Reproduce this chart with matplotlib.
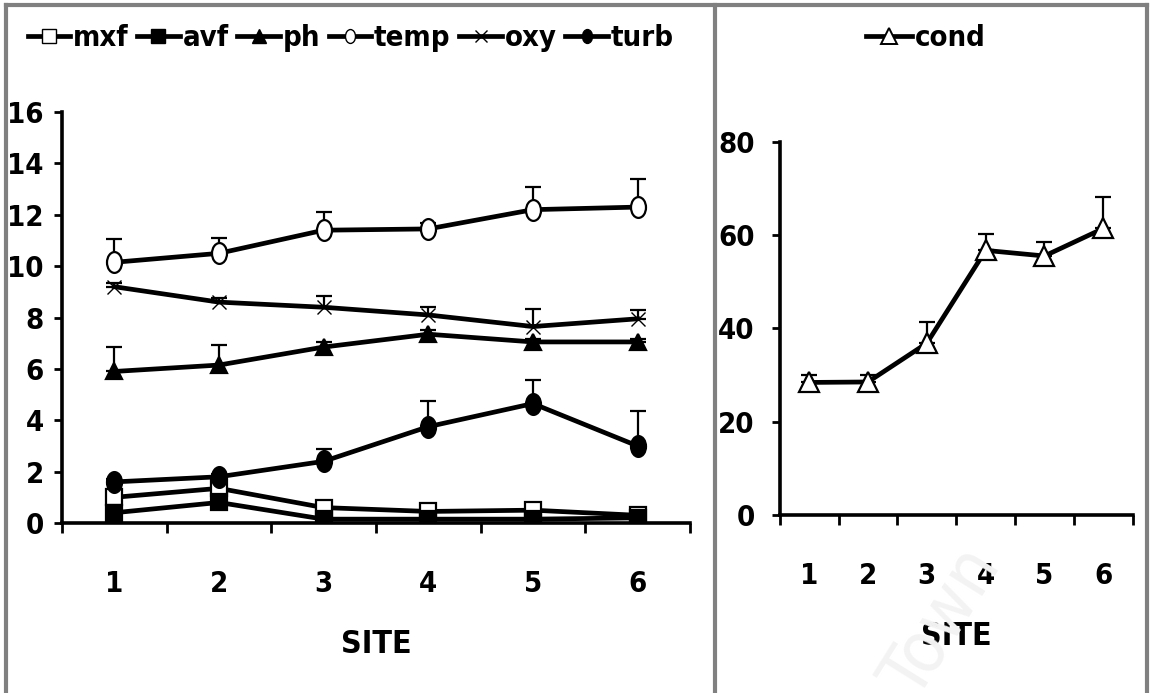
import matplotlib
matplotlib.use("Agg")
import matplotlib.pyplot as plt
import numpy as np
from matplotlib.path import Path
from matplotlib.lines import Line2D
from matplotlib import font_manager

# pick a narrow font if one is installed (reference uses a condensed bold face)
narrow = None
for f in font_manager.fontManager.ttflist:
    if ('Narrow' in f.name or 'Condensed' in f.name or 'condensed' in str(f.stretch)):
        narrow = f
        break
if narrow is not None:
    plt.rcParams['font.family'] = [narrow.name, 'DejaVu Sans']
    plt.rcParams['font.stretch'] = narrow.stretch
    fs_tick, fs_leg, fs_lab = 21, 21, 23
else:
    plt.rcParams['font.family'] = ['Liberation Sans', 'DejaVu Sans']
    fs_tick, fs_leg, fs_lab = 18, 18, 20
plt.rcParams['font.weight'] = 'bold'

# data
sites = [1, 2, 3, 4, 5, 6]
site_labels = ['1', '2', '3', '4', '5', '6']

mxf = [1.0, 1.35, 0.6, 0.45, 0.5, 0.3]
mxf_err = [0.0, 0.0, 0.1, 0.05, 0.1, 0.05]
avf = [0.4, 0.8, 0.15, 0.15, 0.15, 0.2]
avf_err = [0.0, 0.0, 0.0, 0.0, 0.0, 0.0]
ph = [5.9, 6.15, 6.85, 7.35, 7.05, 7.05]
ph_err = [0.95, 0.8, 0.2, 0.15, 0.1, 0.1]
temp = [10.15, 10.5, 11.4, 11.45, 12.2, 12.3]
temp_err = [0.9, 0.6, 0.7, 0.25, 0.9, 1.1]
oxy = [9.2, 8.6, 8.4, 8.1, 7.65, 7.95]
oxy_err = [0.15, 0.15, 0.45, 0.3, 0.7, 0.35]
turb = [1.6, 1.8, 2.4, 3.75, 4.65, 3.0]
turb_err = [0.1, 0.1, 0.5, 1.0, 0.9, 1.35]

cond = [28.4, 28.5, 36.8, 56.7, 55.5, 61.4]
cond_err = [1.6, 1.6, 4.6, 3.6, 3.1, 6.7]

# tall ellipse marker (the original picture is stretched)
circ = Path.unit_circle()
ellipse = Path(circ.vertices * np.array([0.72, 1.0]), circ.codes)

series = [
    ("mxf", mxf, mxf_err, 's', 'white', 'black'),
    ("avf", avf, avf_err, 's', 'black', 'black'),
    ("ph", ph, ph_err, '^', 'black', 'black'),
    ("temp", temp, temp_err, ellipse, 'white', 'black'),
    ("oxy", oxy, oxy_err, 'x', 'none', 'black'),
    ("turb", turb, turb_err, ellipse, 'black', 'black'),
]

fig = plt.figure(figsize=(11.5, 6.93), dpi=100)
ax1 = fig.add_axes([0.0539, 0.2453, 0.546, 0.593])
ax2 = fig.add_axes([0.678, 0.2569, 0.307, 0.5387])

handles = []
for name, vals, err, mk, fc, ec in series:
    ax1.errorbar(sites, vals, yerr=[np.zeros(6), err], fmt='none', ecolor='black',
                 elinewidth=1.6, capsize=6, capthick=1.6, zorder=2)
    if mk == 'x':
        ms, mew = 10, 1.0
    elif isinstance(mk, Path):
        ms, mew = 15, 1.6
    else:
        ms, mew = 12, 1.6
    ax1.plot(sites, vals, color='black', lw=3.4, marker=mk, markersize=ms,
             markerfacecolor=fc, markeredgecolor=ec, markeredgewidth=mew, zorder=3)
    handles.append(Line2D([], [], color='black', lw=3.4, marker=mk,
                          markersize=10 if mk != 'x' else 9,
                          markerfacecolor=fc, markeredgecolor=ec,
                          markeredgewidth=1.0))

ax2.errorbar(sites, cond, yerr=[np.zeros(6), cond_err], fmt='none', ecolor='black',
             elinewidth=1.6, capsize=6, capthick=1.6, zorder=2)
ax2.plot(sites, cond, color='black', lw=3.4, marker='^', markersize=14,
         markerfacecolor='white', markeredgecolor='black', markeredgewidth=1.6, zorder=3)
cond_handle = Line2D([], [], color='black', lw=3.4, marker='^', markersize=12,
                     markerfacecolor='white', markeredgecolor='black', markeredgewidth=1.4)

ax1.set_ylim(0, 16)
ax1.set_yticks(np.arange(0, 17, 2))
ax2.set_ylim(0, 80)
ax2.set_yticks(np.arange(0, 81, 20))

for ax, ypad in [(ax1, 7), (ax2, 12)]:
    ax.set_xlim(0.5, 6.5)
    ax.set_xticks(sites)
    ax.set_xticklabels(site_labels)
    ax.set_xticks(np.arange(0.5, 6.6, 1), minor=True)
    ax.tick_params(axis='x', which='major', length=0, pad=34, labelsize=fs_tick)
    ax.tick_params(axis='x', which='minor', length=7, width=2, direction='out')
    ax.tick_params(axis='y', length=6, width=2, pad=ypad, labelsize=fs_tick)
    for s in ['top', 'right']:
        ax.spines[s].set_visible(False)
    for s in ['left', 'bottom']:
        ax.spines[s].set_linewidth(2.6)
    ax.spines['bottom'].set_zorder(4)
    ax.set_xlabel("SITE", fontsize=fs_lab, fontweight='bold', labelpad=22)
    ax.set_facecolor('none')

fig.legend(handles, [s[0] for s in series], loc='center', bbox_to_anchor=(0.305, 0.945),
           ncol=6, frameon=False, fontsize=fs_leg, handlelength=1.45, handletextpad=0.1,
           columnspacing=0.3)
fig.legend([cond_handle], ["cond"], loc='center', bbox_to_anchor=(0.805, 0.945),
           frameon=False, fontsize=fs_leg, handlelength=1.6, handletextpad=0.1)

# faint watermark and grey frame
fig.text(0.82, 0.10, "Town", fontsize=52, color='#f3f3f3', rotation=58,
         ha='center', va='center', zorder=0, fontweight='normal')
frame = dict(color='#808080', lw=3, transform=fig.transFigure, zorder=0)
fig.add_artist(Line2D([0.005, 0.997], [0.993, 0.993], **frame))
fig.add_artist(Line2D([0.005, 0.005], [0.0, 0.993], **frame))
fig.add_artist(Line2D([0.997, 0.997], [0.0, 0.993], **frame))
fig.add_artist(Line2D([0.622, 0.622], [0.0, 0.993], **frame))

fig.savefig("out.png", dpi=100)
